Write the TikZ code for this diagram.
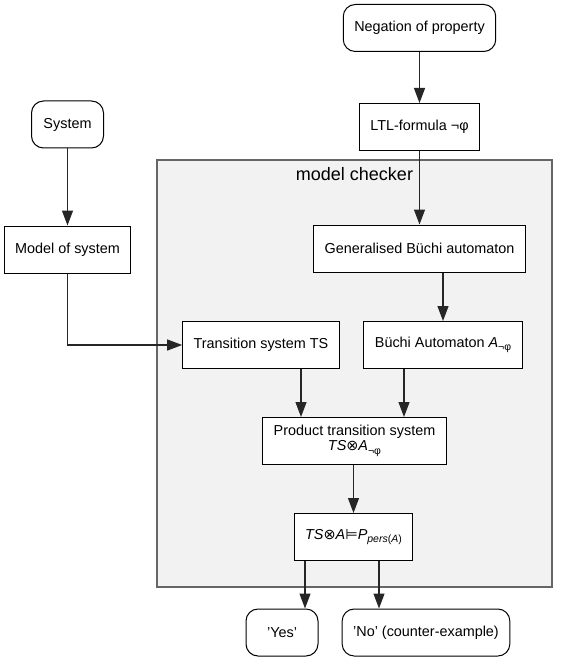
\documentclass[tikz,border=0pt]{standalone}
\usepackage{fontspec}
\setmainfont{Liberation Sans}
\newfontfamily\symfont{DejaVu Sans}
\usetikzlibrary{positioning,shapes,arrows.meta,calc}

\newcommand{\lowsub}[1]{\raisebox{-3.5pt}{\fontsize{10.5}{11}\selectfont #1}}
\newcommand{\negphi}{\lowsub{¬φ}}

\begin{document}
\begin{tikzpicture}[x=1pt,y=-1pt]
\tikzset{
    stepbox/.style={rectangle, draw=black, line width=1pt, fill=white, inner xsep=11pt, minimum width=72pt, minimum height=47pt, font=\fontsize{14.4}{16}\selectfont, align=center},
    endbox/.style={stepbox, rounded corners=12pt},
    flow/.style={draw=black!85, line width=1.2pt, -{Triangle[length=15pt,width=11pt]}}
}
\useasboundingbox (0,0) rectangle (568,663);

% model checker frame
\node[rectangle, draw=black!60, line width=1.2pt, fill=black!5, minimum width=395pt, minimum height=427pt] (checker) at (354.5,373.5) {};
\node[font=\fontsize{18}{20}\selectfont, below=5pt of checker.north] (checkerlabel) {model checker};

\node[endbox] (negation) at (419.5,28) {Negation of property};
\node[stepbox, below=51pt of negation] (ltl) {LTL-formula ¬φ};
\node[endbox] (system) at (67.5,124.5) {System};
\node[stepbox, below=77pt of system] (model) {Model of system};
\node[stepbox] (gba) at (419.5,248.5) {Generalised Büchi automaton};
\node[stepbox] (ts) at (261,345) {Transition system TS};
\node[stepbox] (ba) at (443,345) {Büchi Automaton \textit{A}\negphi};
\node[stepbox] (product) at (354.5,441) {Product transition system\\[-1pt]\textit{TS}{\symfont ⊗}\textit{A}\negphi};
\node[stepbox] (check) at (353.5,537) {\textit{TS}{\symfont ⊗}\textit{A}{\symfont ⊨}\textit{P}\lowsub{\textit{pers}(\textit{A})}};
\node[endbox] (yes) at (282,632.5) {'Yes'};
\node[endbox] (no) at (426,632.5) {'No' (counter-example)};

\draw[flow] (negation) -- (ltl);
\draw[flow] (ltl) -- (gba);
\draw[flow] (system) -- (model);
\draw[flow] (model.south) |- (ts.west);
\draw[flow] (gba.south -| ba) -- (ba);
\draw[flow] ($(ts.south)+(40,0)$) -- ($(product.north)+(-53.5,0)$);
\draw[flow] ($(ba.south)+(-39,0)$) -- ($(product.north)+(49.5,0)$);
\draw[flow] (product.south -| check) -- (check);
\draw[flow] ($(check.south)+(-48.5,0)$) -- ($(yes.north)+(23,0)$);
\draw[flow] ($(check.south)+(25.5,0)$) -- ($(no.north)+(-47,0)$);
\end{tikzpicture}
\end{document}
